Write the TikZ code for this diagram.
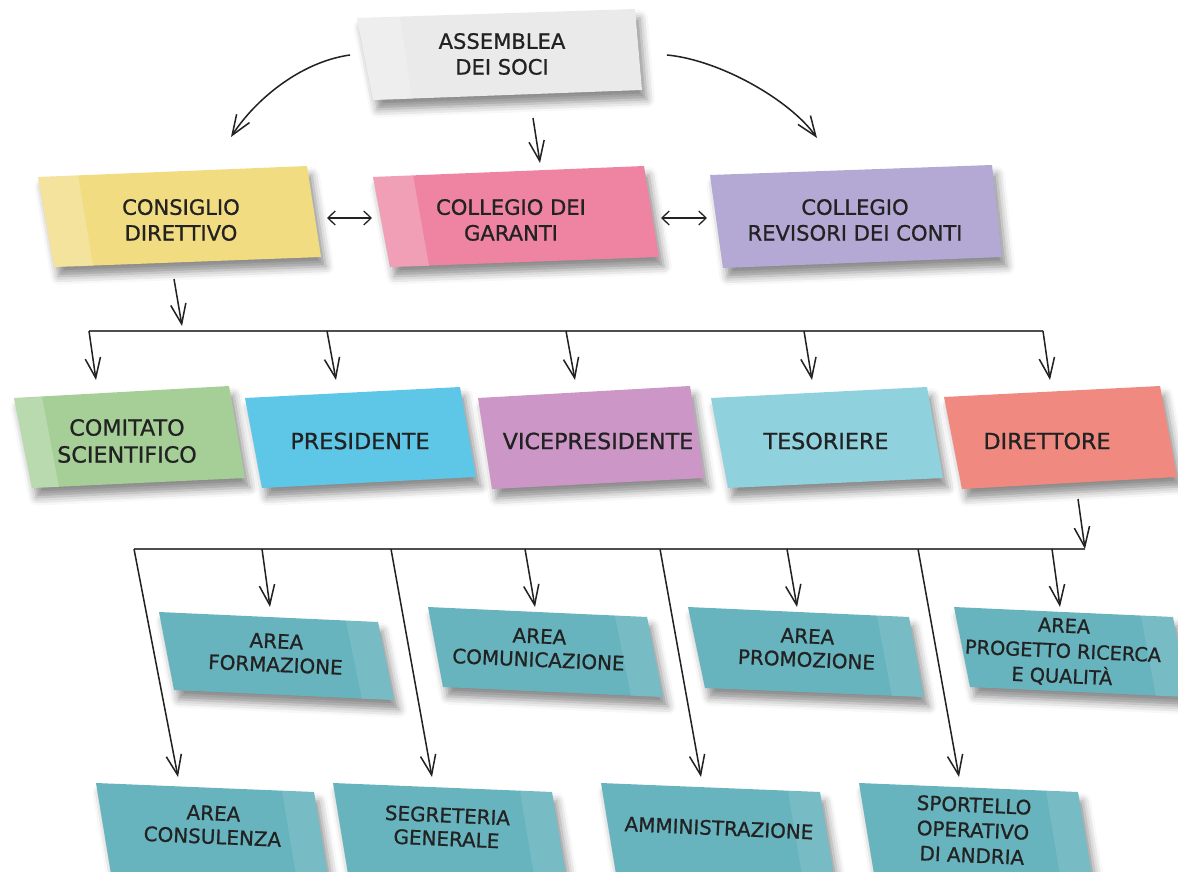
\documentclass[tikz,border=0pt]{standalone}
\usepackage{fontspec}
\setmainfont{DejaVu Sans}
\newfontfamily\notefont[FakeBold=0.9]{DejaVu Sans}
\usetikzlibrary{arrows.meta,shadows.blur}

\definecolor{ink}{HTML}{222222}
\definecolor{cGray}{HTML}{EAEAEA}
\definecolor{cYellow}{HTML}{F2DC82}
\definecolor{cPink}{HTML}{EE84A2}
\definecolor{cPurple}{HTML}{B3A9D4}
\definecolor{cGreen}{HTML}{A6CF98}
\definecolor{cBlue}{HTML}{5EC7E7}
\definecolor{cVice}{HTML}{CC97C7}
\definecolor{cTes}{HTML}{8FD2DE}
\definecolor{cDir}{HTML}{F08A80}
\definecolor{cTeal}{HTML}{68B4BE}

\tikzset{
  note/.style={blur shadow={shadow xshift=4pt, shadow yshift=-8pt, shadow blur radius=7pt, shadow opacity=45}},
  strip/.style={fill=white, opacity=0.22},
  tealstrip/.style={fill=white, opacity=0.1},
  toptext/.style={align=center, inner sep=0pt, text=ink, font=\notefont\fontsize{18}{22}\selectfont},
  midtext/.style={align=center, inner sep=0pt, text=ink, font=\notefont\fontsize{19}{23}\selectfont},
  areatext/.style={align=center, inner sep=0pt, text=ink, font=\notefont\fontsize{17}{20}\selectfont, rotate=-2.5},
  arr/.style={-{Straight Barb[length=6mm, width=4.6mm]}, line width=1.3pt, draw=ink},
  dbl/.style={{Straight Barb[length=2.2mm, width=4.2mm]}-{Straight Barb[length=2.2mm, width=4.2mm]}, line width=1.1pt, draw=ink},
  bus/.style={line width=1.5pt, draw=ink!80}
}

\begin{document}
\begin{tikzpicture}[x=0.03cm, y=-0.03cm]
    \useasboundingbox (0,0) rectangle (1178,872);

    % top level
    \fill[note, cGray] (357,18) -- (635,9) -- (642,90) -- (373,100) -- cycle;
    \fill[strip] (357,18) -- (400,17) -- (412,99) -- (373,100) -- cycle;
    \node[toptext] (assemblea) at (502,54) {ASSEMBLEA\\DEI SOCI};

    \fill[note, cYellow] (38,177) -- (307,166) -- (321,257) -- (54,267) -- cycle;
    \fill[strip] (38,177) -- (78,175) -- (93,266) -- (54,267) -- cycle;
    \node[toptext] (consiglio) at (181,220) {CONSIGLIO\\DIRETTIVO};

    \fill[note, cPink] (373,177) -- (644,166) -- (659,257) -- (390,267) -- cycle;
    \fill[strip] (373,177) -- (413,175) -- (429,266) -- (390,267) -- cycle;
    \node[toptext] (garanti) at (511,220) {COLLEGIO DEI\\GARANTI};

    \fill[note, cPurple] (710,175) -- (992,165) -- (1002,257) -- (723,268) -- cycle;
    \node[toptext] (revisori) at (855,220) {COLLEGIO\\REVISORI DEI CONTI};

    % second row
    \fill[note, cGreen] (14,398) -- (229,386) -- (245,478) -- (32,488) -- cycle;
    \fill[strip] (14,398) -- (42,397) -- (59,487) -- (32,488) -- cycle;
    \node[midtext] (comitato) at (127,441) {COMITATO\\SCIENTIFICO};

    \fill[note, cBlue] (245,398) -- (460,387) -- (476,477) -- (262,488) -- cycle;
    \node[midtext] (presidente) at (360,441) {PRESIDENTE};

    \fill[note, cVice] (478,398) -- (690,386) -- (704,478) -- (492,489) -- cycle;
    \node[midtext] (vicepres) at (598,441) {VICEPRESIDENTE};

    \fill[note, cTes] (711,398) -- (927,387) -- (943,478) -- (728,488) -- cycle;
    \node[midtext] (tesoriere) at (826,441) {TESORIERE};

    \fill[note, cDir] (944,397) -- (1160,386) -- (1177,477) -- (962,489) -- cycle;
    \node[midtext] (direttore) at (1047,441) {DIRETTORE};

    % areas
    \fill[note, cTeal] (159,612) -- (378,622) -- (394,700) -- (174,690) -- cycle;
    \fill[tealstrip] (346,621) -- (378,622) -- (394,700) -- (362,699) -- cycle;
    \node[areatext] (formazione) at (276,653) {AREA\\FORMAZIONE};

    \fill[note, cTeal] (428,607) -- (647,617) -- (663,697) -- (443,687) -- cycle;
    \fill[tealstrip] (615,616) -- (647,617) -- (663,697) -- (631,696) -- cycle;
    \node[areatext] (comunicazione) at (539,648) {AREA\\COMUNICAZIONE};

    \fill[note, cTeal] (688,607) -- (909,617) -- (924,697) -- (705,688) -- cycle;
    \fill[tealstrip] (877,616) -- (909,617) -- (924,697) -- (892,696) -- cycle;
    \node[areatext] (promozione) at (807,648) {AREA\\PROMOZIONE};

    \fill[note, cTeal] (954,607) -- (1173,617) -- (1188,697) -- (970,687) -- cycle;
    \fill[tealstrip] (1141,616) -- (1173,617) -- (1188,697) -- (1156,696) -- cycle;
    \node[areatext, font=\notefont\fontsize{16.5}{21.5}\selectfont] (progetto) at (1063,652) {AREA\\PROGETTO RICERCA\\E QUALITÀ};

    \fill[note, cTeal] (96,783) -- (314,792) -- (332,900) -- (114,892) -- cycle;
    \fill[tealstrip] (282,791) -- (314,792) -- (332,900) -- (300,899) -- cycle;
    \node[areatext] (consulenza) at (213,825) {AREA\\CONSULENZA};

    \fill[note, cTeal] (333,783) -- (552,792) -- (570,900) -- (351,892) -- cycle;
    \fill[tealstrip] (520,791) -- (552,792) -- (570,900) -- (538,899) -- cycle;
    \node[areatext] (segreteria) at (447,827) {SEGRETERIA\\GENERALE};

    \fill[note, cTeal] (601,783) -- (820,792) -- (838,900) -- (619,892) -- cycle;
    \fill[tealstrip] (788,791) -- (820,792) -- (838,900) -- (806,899) -- cycle;
    \node[areatext] (amministrazione) at (719,828) {AMMINISTRAZIONE};

    \fill[note, cTeal] (859,783) -- (1078,792) -- (1096,900) -- (877,892) -- cycle;
    \fill[tealstrip] (1046,791) -- (1078,792) -- (1096,900) -- (1064,899) -- cycle;
    \node[areatext, font=\notefont\fontsize{17}{21.5}\selectfont] (sportello) at (973,830) {SPORTELLO\\OPERATIVO\\DI ANDRIA};

    % connector ends
    \coordinate (as_l) at (350,55);
    \coordinate (as_m) at (533,118);
    \coordinate (as_r) at (667,55);
    \coordinate (cd_in) at (231,137);
    \coordinate (cg_in) at (540,163);
    \coordinate (cr_in) at (817,138);
    \coordinate (cd_e) at (327,218);
    \coordinate (cg_w) at (372,218);
    \coordinate (cg_e) at (661,218);
    \coordinate (cr_w) at (707,218);
    \coordinate (cd_out) at (174,279);
    \coordinate (bus1_in) at (182,326);
    \coordinate (bus1_w) at (89,331);
    \coordinate (bus1_b) at (327,331);
    \coordinate (bus1_c) at (566,331);
    \coordinate (bus1_d) at (804,331);
    \coordinate (bus1_e) at (1043,331);
    \coordinate (dir_out) at (1078,499);
    \coordinate (bus2_e) at (1085,549);
    \coordinate (bus2_w) at (134,549);
    \coordinate (bus2_a) at (262,549);
    \coordinate (bus2_b) at (391,549);
    \coordinate (bus2_c) at (525,549);
    \coordinate (bus2_d) at (660,549);
    \coordinate (bus2_f) at (787,549);
    \coordinate (bus2_g) at (918,549);
    \coordinate (bus2_h) at (1052,549);

    \draw[arr] (as_l) .. controls (300,62) and (255,100) .. (cd_in);
    \draw[arr] (as_m) -- (cg_in);
    \draw[arr] (as_r) .. controls (720,60) and (790,100) .. (cr_in);
    \draw[dbl] (cd_e) -- (cg_w);
    \draw[dbl] (cg_e) -- (cr_w);

    \draw[arr] (cd_out) -- (bus1_in);
    \draw[bus] (bus1_w) -- (bus1_e);
    \draw[arr] (bus1_w) -- ++(7,49);
    \draw[arr] (bus1_b) -- ++(9,49);
    \draw[arr] (bus1_c) -- ++(9,49);
    \draw[arr] (bus1_d) -- ++(8,49);
    \draw[arr] (bus1_e) -- ++(7,49);

    \draw[arr] (dir_out) -- (bus2_e);
    \draw[bus] (bus2_w) -- (bus2_e);
    \draw[arr] (bus2_a) -- ++(8,58);
    \draw[arr] (bus2_c) -- ++(10,58);
    \draw[arr] (bus2_f) -- ++(10,58);
    \draw[arr] (bus2_h) -- ++(8,58);
    \draw[arr] (bus2_w) -- ++(44,228);
    \draw[arr] (bus2_b) -- ++(41,228);
    \draw[arr] (bus2_d) -- ++(41,228);
    \draw[arr] (bus2_g) -- ++(41,228);
\end{tikzpicture}
\end{document}
